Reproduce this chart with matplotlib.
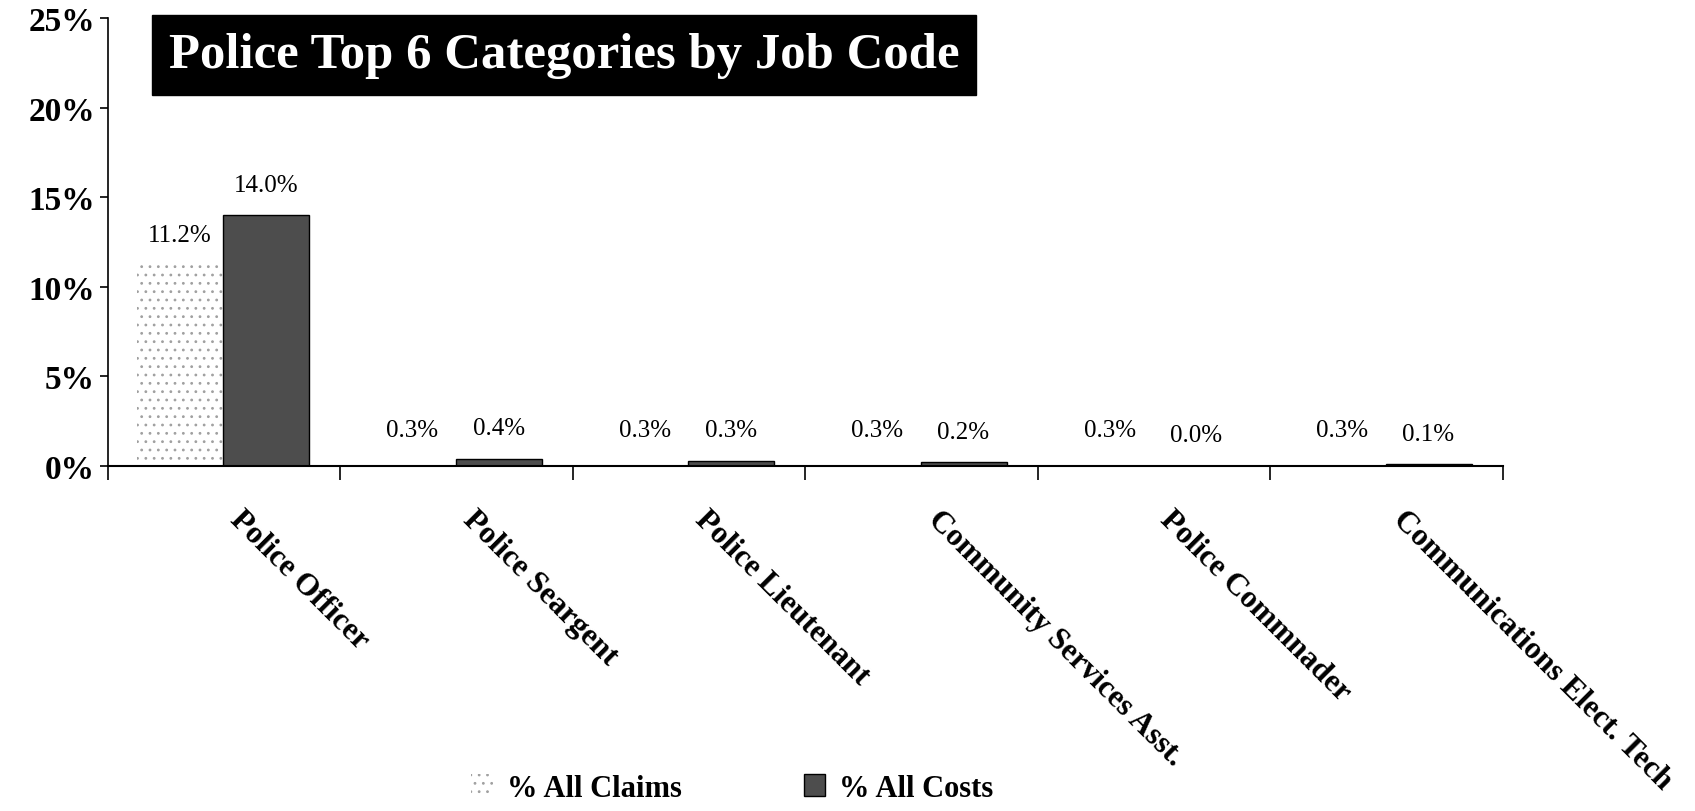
import matplotlib.pyplot as plt
import numpy as np

jobs = ["Police Officer", "Police Seargent", "Police Lieutenant",
        "Community Services Asst.", "Police Commnader", "Communications Elect. Tech"]
claims = [11.2, 0.3, 0.3, 0.3, 0.3, 0.3]
costs = [14.0, 0.4, 0.3, 0.2, 0.0, 0.1]
yticks = [0, 5, 10, 15, 20, 25]

plt.rcParams['font.family'] = ['Liberation Serif', 'DejaVu Serif']
plt.rcParams['hatch.linewidth'] = 0.8

fig = plt.figure(figsize=(16.95, 8.12), dpi=100)
ax = fig.add_axes([0.0637, 0.425, 0.823, 0.551])

x = np.arange(len(jobs))
w = 0.37
b1 = ax.bar(x - 0.19, claims, w, color='white', edgecolor='#a0a0a0', linewidth=0,
            hatch='..', label='% All Claims')
b2 = ax.bar(x + 0.18, costs, w, color='#4d4d4d', edgecolor='black', linewidth=1,
            label='% All Costs')

for bars, vals in ((b1, claims), (b2, costs)):
    for r, v in zip(bars, vals):
        ax.annotate(f"{v:.1f}%", (r.get_x() + r.get_width() / 2, v),
                    xytext=(0, 14), textcoords='offset points',
                    ha='center', va='bottom', fontsize=18)

ax.set_xlim(-0.5, len(jobs) - 0.5)
ax.set_ylim(0, 25)
ax.set_yticks(yticks)
ax.set_yticklabels([f"{t}%" for t in yticks], fontsize=24, fontweight='bold')

# boundary ticks between groups, category names drawn as rotated text
ax.set_xticks(np.arange(len(jobs) + 1) - 0.5)
ax.set_xticklabels([])
ax.tick_params(axis='x', length=10, width=1.2)
ax.tick_params(axis='y', length=6, width=1.2)
for xi, name in zip(x, jobs):
    ax.annotate(name, (xi, 0), xycoords=('data', 'axes fraction'),
                xytext=(15, -28), textcoords='offset points',
                rotation=-45, rotation_mode='anchor', ha='left', va='top',
                fontsize=22.5, fontweight='bold')

ax.spines['top'].set_visible(False)
ax.spines['right'].set_visible(False)
ax.spines['left'].set_linewidth(1.2)
ax.spines['bottom'].set_linewidth(1.5)

fig.text(0.333, 0.931, "Police Top 6 Categories by Job Code", color='white',
         fontsize=36.5, fontweight='bold', ha='center', va='center',
         bbox=dict(boxstyle='square,pad=0.33', facecolor='black', edgecolor='black'))

fig.legend(handles=[b1, b2], loc='center', bbox_to_anchor=(0.432, 0.028), ncol=2,
           frameon=False, prop={'size': 22, 'weight': 'bold'}, columnspacing=4.0,
           handlelength=0.7, handleheight=0.7, handletextpad=0.45)

fig.savefig("out.png")
